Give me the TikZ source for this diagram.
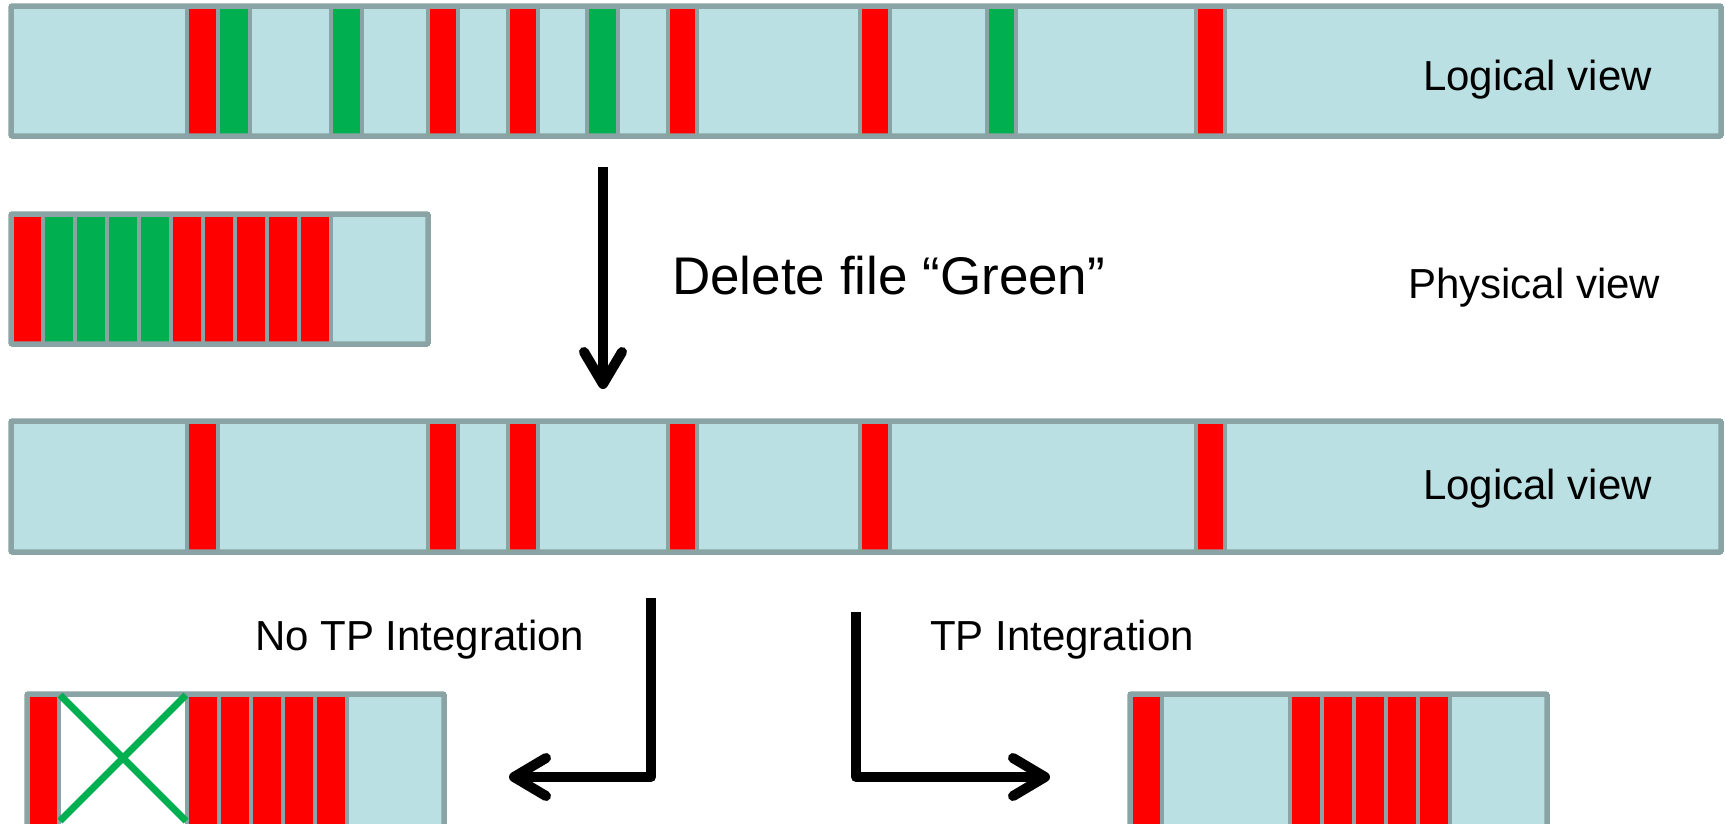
\documentclass[tikz,border=0pt]{standalone}
\usepackage{fontspec}
\setmainfont{Liberation Sans}
\usetikzlibrary{arrows.meta}
\definecolor{freeblue}{RGB}{187,224,227}
\definecolor{cellgray}{RGB}{138,163,165}
\definecolor{filered}{RGB}{255,0,0}
\definecolor{filegreen}{RGB}{0,176,80}
\tikzset{
    disk view/.style  = {x=1pt, y=-1pt},
    frame/.style      = {draw=cellgray, line width=5.5pt, rounded corners=1.5pt},
    cell/.style       = {draw=cellgray, line width=4pt},
    free/.style       = {cell, fill=freeblue},
    redfile/.style    = {cell, fill=filered},
    greenfile/.style  = {cell, fill=filegreen},
    hole/.style       = {cell, fill=white},
    cross/.style      = {draw=filegreen, line width=7pt},
    flow/.style       = {line width=10pt, line join=round,
                         -{Straight Barb[length=32pt, width=38pt, round]}},
    caption/.style    = {anchor=base west, inner sep=0pt,
                         font=\fontsize{42pt}{50pt}\selectfont},
    step label/.style = {caption, font=\fontsize{53pt}{63pt}\selectfont}
}

\begin{document}
\begin{tikzpicture}[disk view]
\useasboundingbox (0,0) rectangle (1725,823);

% ================= Logical view before deletion =================
\draw[free] (11,6) rectangle (1721,136);
\foreach \xa/\xb/\kind in {187/218/redfile, 218/250/greenfile,
        331/362/greenfile, 428/458/redfile, 508/538/redfile,
        587/618/greenfile, 668/697/redfile, 860/890/redfile,
        987/1016/greenfile, 1196/1225/redfile}
    \draw[\kind] (\xa,6) rectangle (\xb,136);
\draw[frame] (11,6) rectangle (1721,136);
\node[caption] (logical before) at (1423,90) {Logical view};

% ================= Physical view =================
\draw[free] (11,214) rectangle (428,344);
\foreach \k/\kind in {0/redfile, 1/greenfile, 2/greenfile, 3/greenfile,
        4/greenfile, 5/redfile, 6/redfile, 7/redfile, 8/redfile, 9/redfile}
    \draw[\kind] ({11+32*\k},214) rectangle ({43+32*\k},344);
\draw[frame] (11,214) rectangle (428,344);
\node[caption] (physical) at (1408,298) {Physical view};

% ================= Delete step =================
\coordinate (drop top) at (603,167);
\coordinate (drop end) at (603,389);
\draw[flow] (drop top) -- (drop end);
\node[step label] (delete) at (672,294) {Delete file “Green”};

% ================= Logical view after deletion =================
\draw[free] (11,421) rectangle (1721,552);
\foreach \xa/\xb in {187/218, 428/458, 508/538, 668/697, 860/890, 1196/1225}
    \draw[redfile] (\xa,421) rectangle (\xb,552);
\draw[frame] (11,421) rectangle (1721,552);
\node[caption] (logical after) at (1423,499) {Logical view};

% ================= Without TP integration =================
\coordinate (no tp top) at (651,598);
\coordinate (no tp end) at (509,777);
\draw[flow] (no tp top) |- (no tp end);
\node[caption] (no tp) at (255,650) {No TP Integration};

\draw[free] (27,694) rectangle (444,830);
\draw[redfile] (27,694) rectangle (59,830);
\draw[hole] (59,694) rectangle (187,830);
\foreach \k in {0,...,4}
    \draw[redfile] ({187+32*\k},694) rectangle ({219+32*\k},830);
\draw[frame] (27,694) rectangle (444,830);
\draw[cross] (60,695) -- (186,821);
\draw[cross] (186,695) -- (60,821);

% ================= With TP integration =================
\coordinate (tp top) at (856,612);
\coordinate (tp end) at (1050,777);
\draw[flow] (tp top) |- (tp end);
\node[caption] (tp) at (930,650) {TP Integration};

\draw[free] (1130,694) rectangle (1547,830);
\draw[redfile] (1130,694) rectangle (1162,830);
\foreach \k in {0,...,4}
    \draw[redfile] ({1290+32*\k},694) rectangle ({1322+32*\k},830);
\draw[frame] (1130,694) rectangle (1547,830);

\end{tikzpicture}
\end{document}
